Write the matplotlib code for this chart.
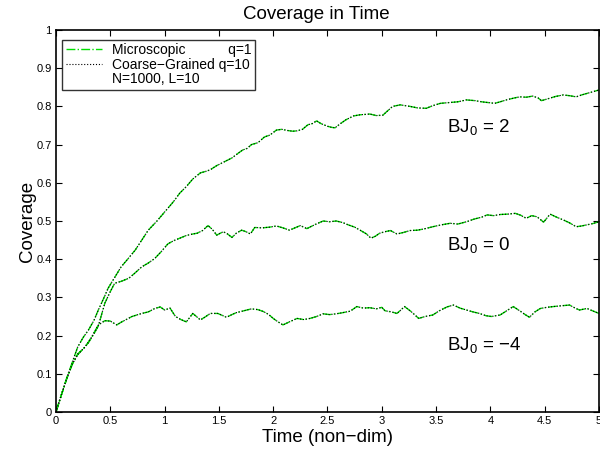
import matplotlib
matplotlib.use('Agg')
import matplotlib.pyplot as plt
from matplotlib.lines import Line2D

# coverage curves (time, coverage)
t_hi = [0, 0.05, 0.1, 0.15, 0.2, 0.25, 0.3, 0.35, 0.39, 0.44, 0.48, 0.54, 0.6, 0.66,
        0.73, 0.79, 0.85, 0.93, 1.02, 1.08, 1.14, 1.2, 1.26, 1.33, 1.38, 1.42, 1.48,
        1.55, 1.62, 1.69, 1.72, 1.76, 1.80, 1.86, 1.92, 1.97, 2.03, 2.08, 2.13, 2.18,
        2.22, 2.27, 2.32, 2.36, 2.40, 2.44, 2.50, 2.54, 2.57, 2.62, 2.67, 2.74, 2.80,
        2.89, 2.95, 3.01, 3.06, 3.10, 3.17, 3.26, 3.33, 3.41, 3.47, 3.54, 3.62, 3.70,
        3.78, 3.86, 3.92, 3.98, 4.04, 4.09, 4.16, 4.22, 4.27, 4.33, 4.39, 4.44, 4.47,
        4.53, 4.60, 4.67, 4.73, 4.79, 4.84, 4.89, 4.94, 5.0]
c_hi = [0, 0.045, 0.09, 0.13, 0.17, 0.195, 0.215, 0.24, 0.267, 0.298, 0.324, 0.352, 0.38, 0.40,
        0.424, 0.45, 0.476, 0.50, 0.53, 0.55, 0.573, 0.59, 0.61, 0.626, 0.63, 0.634, 0.645,
        0.655, 0.665, 0.68, 0.686, 0.69, 0.70, 0.705, 0.72, 0.725, 0.738, 0.74, 0.737, 0.735,
        0.736, 0.74, 0.752, 0.755, 0.762, 0.755, 0.748, 0.745, 0.744, 0.755, 0.765, 0.775, 0.778,
        0.78, 0.776, 0.777, 0.79, 0.80, 0.804, 0.80, 0.796, 0.795, 0.802, 0.808, 0.81, 0.812,
        0.817, 0.815, 0.812, 0.81, 0.808, 0.812, 0.818, 0.822, 0.825, 0.824, 0.827, 0.822, 0.815,
        0.82, 0.826, 0.83, 0.828, 0.825, 0.83, 0.834, 0.838, 0.843]

t_mid = [0, 0.05, 0.1, 0.15, 0.2, 0.25, 0.3, 0.35, 0.39, 0.45, 0.5, 0.54, 0.6, 0.67,
         0.72, 0.79, 0.85, 0.91, 0.97, 1.03, 1.08, 1.14, 1.2, 1.26, 1.30, 1.35, 1.40,
         1.44, 1.48, 1.54, 1.58, 1.62, 1.66, 1.71, 1.75, 1.79, 1.83, 1.90, 1.97, 2.03,
         2.09, 2.15, 2.20, 2.25, 2.31, 2.38, 2.46, 2.52, 2.58, 2.64, 2.69, 2.75, 2.80,
         2.86, 2.90, 2.94, 2.98, 3.03, 3.08, 3.14, 3.20, 3.26, 3.33, 3.40, 3.47, 3.55,
         3.63, 3.70, 3.78, 3.85, 3.92, 3.97, 4.03, 4.09, 4.16, 4.23, 4.28, 4.33, 4.38,
         4.43, 4.49, 4.55, 4.61, 4.67, 4.73, 4.79, 4.84, 4.89, 4.94, 5.0]
c_mid = [0, 0.045, 0.088, 0.125, 0.152, 0.165, 0.182, 0.205, 0.225, 0.285, 0.315, 0.337, 0.342, 0.35,
         0.362, 0.38, 0.39, 0.402, 0.42, 0.44, 0.448, 0.455, 0.462, 0.466, 0.468, 0.475, 0.488,
         0.478, 0.463, 0.472, 0.466, 0.457, 0.468, 0.476, 0.472, 0.466, 0.483, 0.482, 0.484, 0.487,
         0.482, 0.476, 0.482, 0.488, 0.48, 0.49, 0.50, 0.498, 0.50, 0.496, 0.49, 0.484, 0.476,
         0.466, 0.455, 0.46, 0.468, 0.472, 0.475, 0.466, 0.47, 0.475, 0.476, 0.48, 0.485, 0.49,
         0.494, 0.492, 0.498, 0.505, 0.51, 0.516, 0.514, 0.517, 0.518, 0.52, 0.515, 0.507, 0.514,
         0.511, 0.497, 0.518, 0.51, 0.503, 0.495, 0.485, 0.487, 0.49, 0.493, 0.498]

t_lo = [0, 0.05, 0.1, 0.15, 0.2, 0.27, 0.33, 0.39, 0.45, 0.5, 0.56, 0.6, 0.64, 0.7,
        0.79, 0.85, 0.91, 0.96, 1.0, 1.05, 1.1, 1.15, 1.2, 1.26, 1.33, 1.38, 1.42,
        1.49, 1.57, 1.62, 1.66, 1.73, 1.80, 1.86, 1.91, 1.96, 2.0, 2.05, 2.09, 2.15,
        2.22, 2.28, 2.34, 2.40, 2.46, 2.52, 2.58, 2.64, 2.71, 2.77, 2.83, 2.89, 2.95,
        3.0, 3.03, 3.09, 3.14, 3.21, 3.27, 3.34, 3.40, 3.47, 3.53, 3.60, 3.66, 3.72,
        3.78, 3.84, 3.90, 3.96, 4.01, 4.09, 4.15, 4.21, 4.27, 4.32, 4.36, 4.41, 4.46,
        4.52, 4.58, 4.65, 4.73, 4.78, 4.82, 4.89, 4.94, 5.0]
c_lo = [0, 0.045, 0.088, 0.125, 0.15, 0.171, 0.197, 0.228, 0.239, 0.238, 0.228, 0.235, 0.241, 0.25,
        0.258, 0.262, 0.271, 0.275, 0.267, 0.272, 0.25, 0.242, 0.236, 0.258, 0.241, 0.25, 0.258,
        0.258, 0.248, 0.255, 0.26, 0.265, 0.27, 0.268, 0.263, 0.255, 0.245, 0.235, 0.228, 0.236,
        0.245, 0.242, 0.245, 0.25, 0.257, 0.255, 0.257, 0.26, 0.264, 0.276, 0.272, 0.273, 0.27,
        0.274, 0.265, 0.262, 0.258, 0.276, 0.263, 0.245, 0.25, 0.254, 0.265, 0.275, 0.28, 0.272,
        0.267, 0.262, 0.258, 0.252, 0.25, 0.254, 0.265, 0.276, 0.265, 0.255, 0.248, 0.262, 0.271,
        0.274, 0.276, 0.278, 0.28, 0.272, 0.267, 0.271, 0.265, 0.258]

curves = [(t_hi, c_hi), (t_mid, c_mid), (t_lo, c_lo)]
labels = [r'BJ$_0$ = 2', r'BJ$_0$ = 0', r'BJ$_0$ = $-$4']
label_pos = [(3.6, 0.745), (3.6, 0.437), (3.6, 0.175)]

plt.rcParams['font.family'] = ['Liberation Sans', 'DejaVu Sans']
plt.rcParams['mathtext.fontset'] = 'custom'
plt.rcParams['mathtext.rm'] = 'Liberation Sans'
plt.rcParams['mathtext.it'] = 'Liberation Sans'

fig = plt.figure(figsize=(6.0, 4.49), dpi=100)
ax = fig.add_axes([0.0933, 0.0824, 0.905, 0.8508])

for t, c in curves:
    ax.plot(t, c, color='#00e000', linestyle='-.', linewidth=1.0)
    ax.plot(t, c, color='black', linestyle=':', linewidth=0.8)

for txt, (x, y) in zip(labels, label_pos):
    ax.text(x, y, txt, fontsize=13.5, va='center', ha='left')

ax.set_xlim(0, 5)
ax.set_ylim(0, 1)
ax.set_xticks([0, 0.5, 1, 1.5, 2, 2.5, 3, 3.5, 4, 4.5, 5])
ax.set_xticklabels(['0', '0.5', '1', '1.5', '2', '2.5', '3', '3.5', '4', '4.5', '5'])
ax.set_yticks([0, 0.1, 0.2, 0.3, 0.4, 0.5, 0.6, 0.7, 0.8, 0.9, 1])
ax.set_yticklabels(['0', '0.1', '0.2', '0.3', '0.4', '0.5', '0.6', '0.7', '0.8', '0.9', '1'])
ax.tick_params(direction='in', top=True, right=True, labelsize=8, length=4, width=0.8, pad=3)
for sp in ax.spines.values():
    sp.set_linewidth(1.2)

ax.set_title('Coverage in Time', fontsize=13.5, pad=8, x=0.48)
ax.set_xlabel('Time (non\u2212dim)', fontsize=13.5, labelpad=2)
ax.set_ylabel('Coverage', fontsize=13.5, labelpad=0)

handles = [Line2D([], [], color='#00e000', linestyle='-.', linewidth=1.0),
           Line2D([], [], color='black', linestyle=':', linewidth=0.8),
           Line2D([], [], color='none')]
leg = ax.legend(handles, ['Microscopic           q=1', 'Coarse\u2212Grained q=10', 'N=1000, L=10'],
                loc='upper left', bbox_to_anchor=(0.012, 0.975), fontsize=10, frameon=True,
                fancybox=False, edgecolor='black', borderpad=0.25, labelspacing=0.05,
                handlelength=2.6, handletextpad=0.7, borderaxespad=0)
leg.get_frame().set_linewidth(1.0)

fig.savefig('out.png', dpi=100)
